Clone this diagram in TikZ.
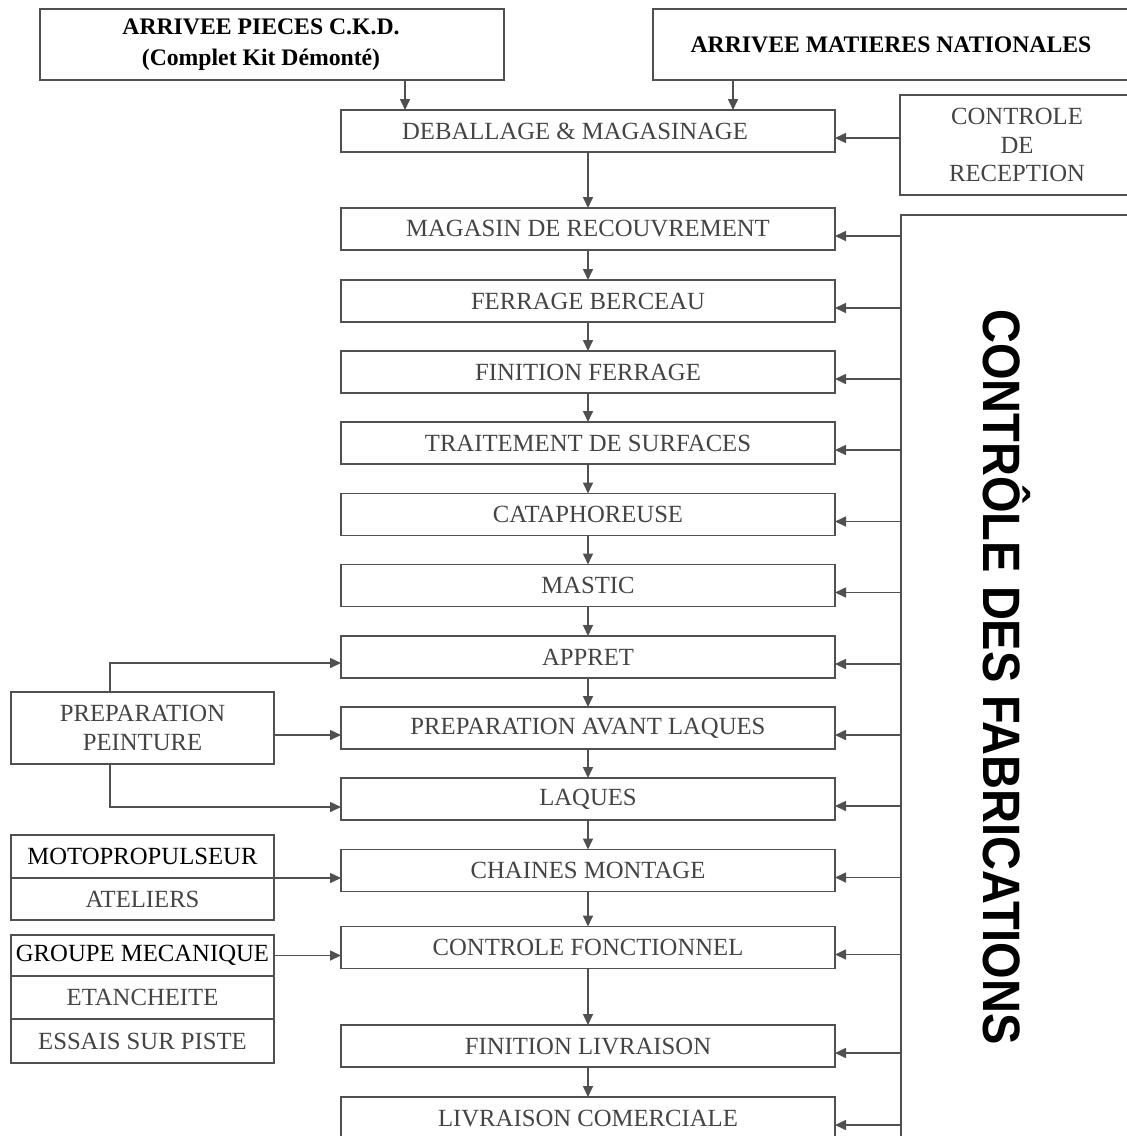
\documentclass[tikz,border=0pt]{standalone}
\usepackage{fontspec}
\setmainfont{Liberation Serif}
\newfontfamily\headsans{Liberation Sans}
\usetikzlibrary{arrows.meta}
\definecolor{boxline}{HTML}{505050}
\definecolor{boxtext}{HTML}{444444}
\begin{document}
\begin{tikzpicture}[x=1pt,y=-1pt,
  every node/.style={inner sep=0pt, outer sep=0pt},
  frame/.style={draw=boxline, line width=1.8pt, fill=white, align=center,
    font=\fontsize{24.7}{28.5}\selectfont, text=boxtext},
  mainbox/.style={frame, minimum width=494pt, minimum height=42pt},
  sidebox/.style={frame, minimum width=263pt},
  headbox/.style={frame, minimum height=71pt, text=black,
    font=\fontsize{23.7}{31}\selectfont\bfseries},
  arr/.style={draw=boxline, line width=1.6pt, -{Triangle[length=11pt,width=10pt]}},
  link/.style={draw=boxline, line width=1.6pt}]
\useasboundingbox (0,0) rectangle (1127,1136);
\clip (0,0) rectangle (1127,1136);
\fill[white] (0,0) rectangle (1127,1136);

% incoming supplies
\node[headbox, minimum width=464pt] (ckd) at (272,44.5)
  {ARRIVEE PIECES C.K.D.\hspace*{22pt}\\(Complet Kit Démonté)\hspace*{22pt}};
\node[headbox, minimum width=476pt] (nat) at (891,44.5)
  {ARRIVEE MATIERES NATIONALES};

% control columns on the right
\node[frame, minimum width=234pt, minimum height=100pt] (recep) at (1017,145)
  {CONTROLE\\DE\\RECEPTION};
\node[frame, minimum width=234pt, minimum height=935pt] (fab) at (1018,682.5) {};
\node[text=black, rotate=-90] (fabtxt) at (1007,677)
  {\headsans\bfseries\fontsize{47}{50}\selectfont\scalebox{1}[1.12]{CONTRÔLE DES FABRICATIONS}};

% main production line
\node[mainbox] (deb) at (588,131) {DEBALLAGE \& MAGASINAGE\hspace*{26pt}};
\node[mainbox] (mag) at (588,229) {MAGASIN DE RECOUVREMENT};
\node[mainbox] (fer) at (588,301) {FERRAGE BERCEAU};
\node[mainbox] (fin) at (588,372) {FINITION FERRAGE};
\node[mainbox] (tra) at (588,443) {TRAITEMENT DE SURFACES};
\node[mainbox] (cat) at (588,514.5) {CATAPHOREUSE};
\node[mainbox] (mas) at (588,585.5) {MASTIC};
\node[mainbox] (app) at (588,657) {APPRET};
\node[mainbox] (pal) at (588,728) {PREPARATION AVANT LAQUES};
\node[mainbox] (laq) at (588,799) {LAQUES};
\node[mainbox] (cha) at (588,870.5) {CHAINES MONTAGE};
\node[mainbox] (cfo) at (588,947.5) {CONTROLE FONCTIONNEL};
\node[mainbox] (fli) at (588,1046) {FINITION LIVRAISON};
\node[mainbox] (lco) at (588,1118) {LIVRAISON COMERCIALE};

% workshops on the left
\node[sidebox, minimum height=72pt] (prep) at (142.5,728) {PREPARATION\\PEINTURE};
\node[sidebox, minimum height=43pt, text=black] (moto) at (142.5,856.5) {MOTOPROPULSEUR};
\node[sidebox, minimum height=42pt] (atel) at (142.5,899) {ATELIERS};
\node[sidebox, minimum height=41pt, text=black] (grp) at (142.5,955.5) {GROUPE MECANIQUE};
\node[sidebox, minimum height=43pt] (eta) at (142.5,997.5) {ETANCHEITE};
\node[sidebox, minimum height=44pt] (ess) at (142.5,1041) {ESSAIS SUR PISTE};

% supplies into unpacking
\coordinate (ckdout) at ([xshift=365pt]ckd.south west);
\coordinate (natout) at ([xshift=80pt]nat.south west);
\draw[arr] (ckdout) -- (ckdout |- deb.north);
\draw[arr] (natout) -- (natout |- deb.north);

% flow down the line
\foreach \a/\b in {deb/mag, mag/fer, fer/fin, fin/tra, tra/cat, cat/mas,
  mas/app, app/pal, pal/laq, laq/cha, cha/cfo, cfo/fli, fli/lco}
  \draw[arr] (\a.south) -- (\b.north);

% inspections feeding each station
\coordinate (rdeb) at ([yshift=-7pt]deb.east);
\draw[arr] (rdeb -| recep.west) -- (rdeb);
\foreach \s in {mag, fer, fin, tra, cat, mas, app, pal, laq, cha, cfo, fli, lco} {
  \coordinate (r\s) at ([yshift=-7pt]\s.east);
  \draw[arr] (r\s -| fab.west) -- (r\s);
}

% paint preparation branches
\coordinate (ptop) at ([xshift=99pt]prep.north west);
\coordinate (pbot) at ([xshift=99pt]prep.south west);
\coordinate (lapp) at ([yshift=-6pt]app.west);
\coordinate (lpal) at ([yshift=-7pt]pal.west);
\coordinate (llaq) at ([yshift=-8pt]laq.west);
\draw[arr] (ptop) |- (lapp);
\draw[arr] (lpal -| prep.east) -- (lpal);
\draw[arr] (pbot) |- (llaq);

% workshops into assembly and testing
\draw[arr] (moto.south east) -- (moto.south east -| cha.west);
\draw[arr] (grp.east) -- (grp.east -| cfo.west);
\end{tikzpicture}
\end{document}
